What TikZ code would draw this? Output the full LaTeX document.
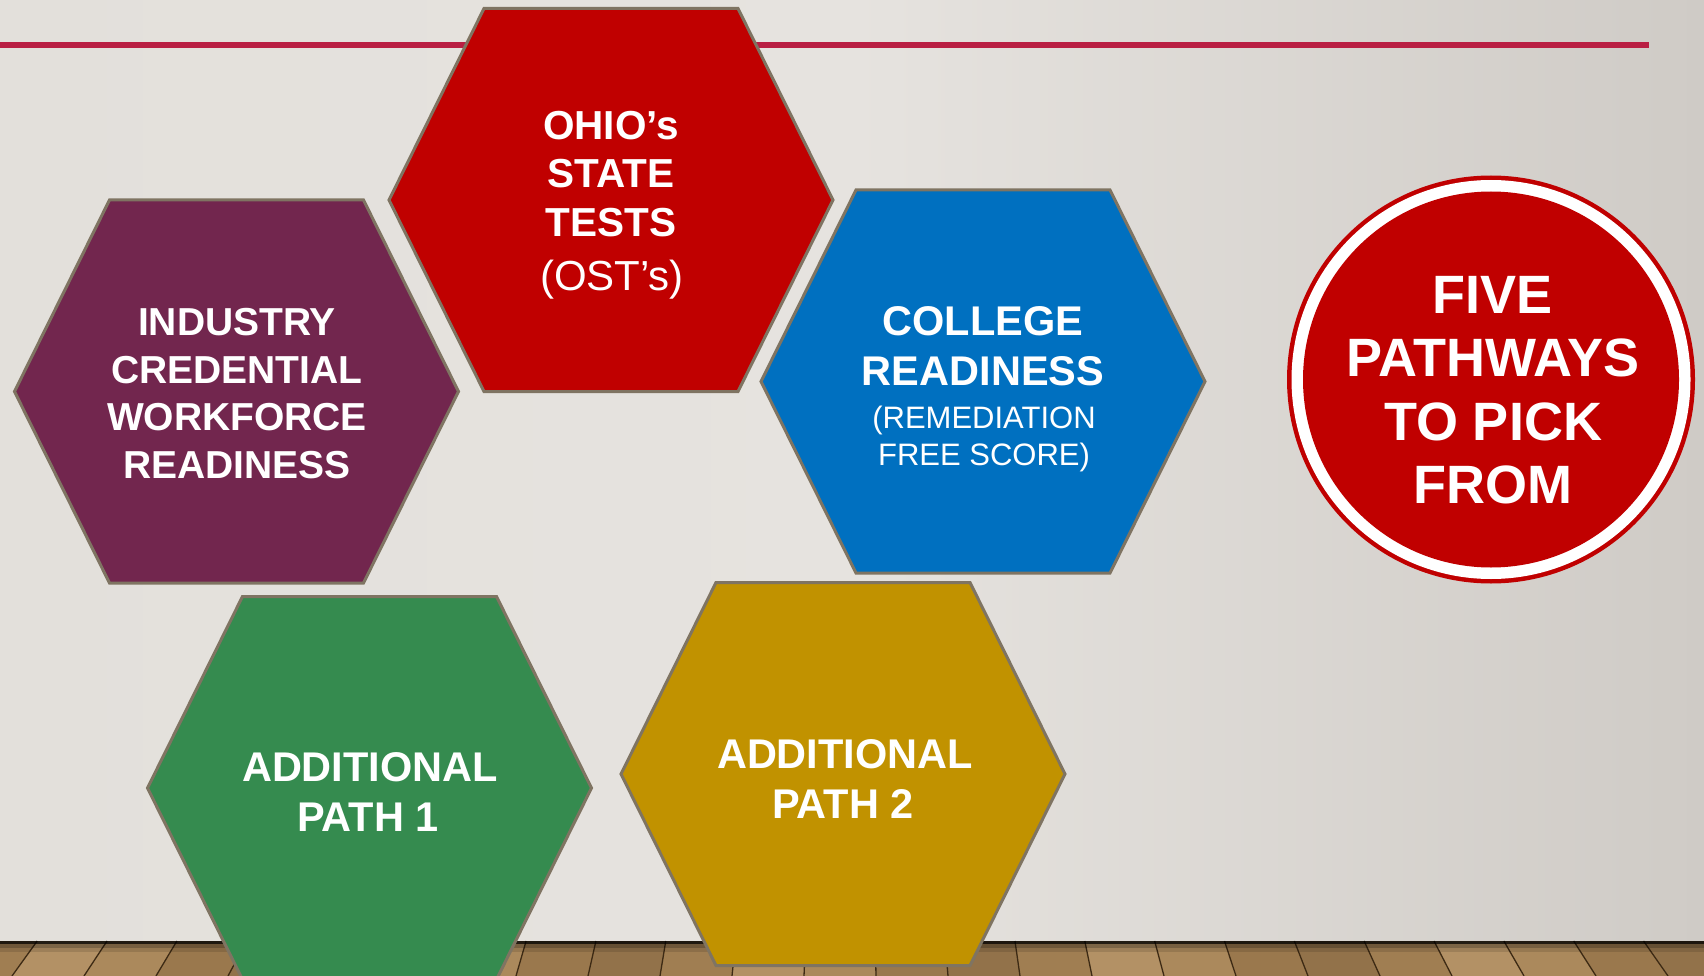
\documentclass[tikz,border=0pt]{standalone}
\usepackage{fontspec}
\setmainfont{Liberation Sans}
\definecolor{bgL}{HTML}{E3E0DB}
\definecolor{bgM}{HTML}{E6E3DF}
\definecolor{bgR}{HTML}{CFCBC6}
\definecolor{linecol}{HTML}{B91F43}
\definecolor{hexborder}{HTML}{7F7462}
\definecolor{hexred}{HTML}{C00000}
\definecolor{hexpurple}{HTML}{72264E}
\definecolor{hexblue}{HTML}{0070C0}
\definecolor{hexgreen}{HTML}{358B4F}
\definecolor{hexgold}{HTML}{C19200}
\definecolor{wood0}{HTML}{A07E52}
\definecolor{wood1}{HTML}{AB895C}
\definecolor{wood2}{HTML}{92724A}
\definecolor{wood3}{HTML}{B39165}
\definecolor{wood4}{HTML}{9A784D}
\definecolor{plankline}{HTML}{3D2A14}
\newcommand\hexat[3]{%
  \filldraw[hexbox, fill=#3] ({#1-222},#2) -- ({#1-127},{#2-191.5}) -- ({#1+127},{#2-191.5})
    -- ({#1+222},#2) -- ({#1+127},{#2+191.5}) -- ({#1-127},{#2+191.5}) -- cycle;}
\begin{document}
\begin{tikzpicture}[x=1pt,y=-1pt,
  hexbox/.style={draw=hexborder, line width=3pt, line join=miter},
  lbl/.style={text=white, anchor=base, inner sep=0pt},
  boldred/.style={lbl, font=\fontsize{40.5}{40.5}\selectfont\bfseries},
  bold39/.style={lbl, font=\fontsize{39}{39}\selectfont\bfseries},
  bold41/.style={lbl, font=\fontsize{41.5}{41.5}\selectfont\bfseries},
  reg31/.style={lbl, font=\fontsize{31}{31}\selectfont},
  reg42/.style={lbl, font=\fontsize{42}{42}\selectfont},
  bold54/.style={lbl, font=\fontsize{54}{54}\selectfont\bfseries}]
\useasboundingbox (0,0) rectangle (1704,976);
% wall
\shade[left color=bgL, right color=bgR, middle color=bgM] (0,0) rectangle (1704,942);
% floor
\fill[wood0] (0,941) rectangle (1704,976);
\foreach \i in {0,...,25} {
  \pgfmathsetmacro\xa{-60+\i*72}
  \pgfmathsetmacro\xb{\xa+72}
  \pgfmathsetmacro\ta{852+(\xa-852)*0.97}
  \pgfmathsetmacro\tb{852+(\xb-852)*0.97}
  \pgfmathtruncatemacro\k{mod(\i*3,5)}
  \fill[wood\k] (\xa,976) -- (\ta,941) -- (\tb,941) -- (\xb,976) -- cycle;
  \draw[plankline, line width=1.3pt] (\xa,976) -- (\ta,941);
}
\fill[black, opacity=0.8] (0,941) rectangle (1704,944);
\fill[black, opacity=0.3] (0,944) rectangle (1704,948);
\fill[black, opacity=0.12] (0,948) rectangle (1704,952);
% top rule
\coordinate (ruleA) at (0,45);
\coordinate (ruleB) at (1649,45);
\draw[line width=6pt, linecol] (ruleA) -- (ruleB);
% hexagons
\hexat{611}{200}{hexred}
\hexat{236.5}{391.5}{hexpurple}
\hexat{983}{381.5}{hexblue}
\hexat{369.5}{788}{hexgreen}
\hexat{843}{774}{hexgold}
% circle
\fill[hexred] (1491,379.5) circle[radius=204pt];
\fill[white] (1491,379.5) circle[radius=199.5pt];
\fill[hexred] (1491,379.5) circle[radius=188pt];
% red hexagon text
\node[boldred] (r1) at (611,139.3) {OHIO’s};
\node[boldred] (r2) at (611,187.7) {STATE};
\node[boldred] (r3) at (611,236.7) {TESTS};
\node[reg42] (r4) at (612,290) {(OST’s)};
% purple
\node[bold39] (p1) at (237,335) {INDUSTRY};
\node[bold39] (p2) at (237,383.3) {CREDENTIAL};
\node[bold39] (p3) at (237,430.7) {WORKFORCE};
\node[bold39] (p4) at (237,478.3) {READINESS};
% blue
\node[bold41] (b1) at (983,335) {COLLEGE};
\node[bold41] (b2) at (983,385.7) {READINESS};
\node[reg31] (b3) at (984,428.3) {(REMEDIATION};
\node[reg31] (b4) at (984,465) {FREE SCORE)};
% green
\node[bold41] (g1) at (370,781.7) {ADDITIONAL};
\node[bold41] (g2) at (368,831.7) {PATH 1};
% gold
\node[bold41] (y1) at (845,768.3) {ADDITIONAL};
\node[bold41] (y2) at (843,818.3) {PATH 2};
% circle text
\node[bold54] (c1) at (1492,313.3) {FIVE};
\node[bold54] (c2) at (1493,376.7) {PATHWAYS};
\node[bold54] (c3) at (1493,440) {TO PICK};
\node[bold54] (c4) at (1493,503.3) {FROM};
\end{tikzpicture}
\end{document}
